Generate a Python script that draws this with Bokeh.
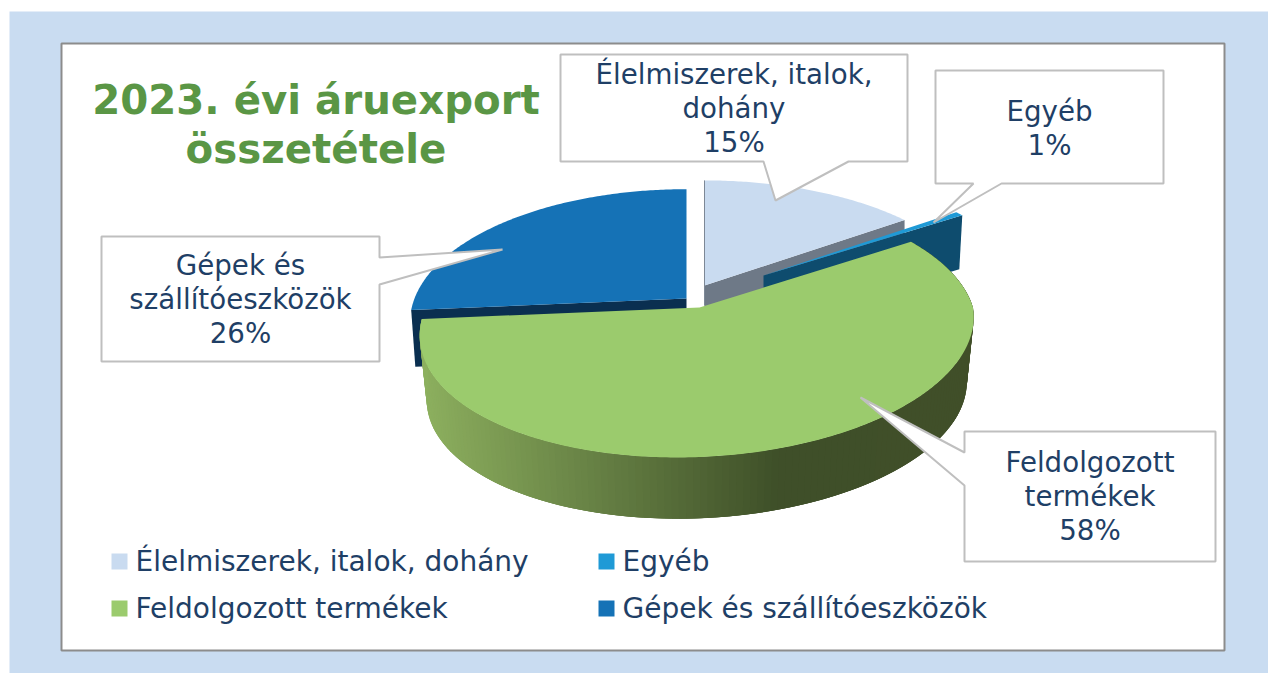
import numpy as np
from bokeh.plotting import figure
from bokeh.models import Range1d
from bokeh.core.properties import value
from bokeh.embed import file_html
from bokeh.resources import INLINE

# ---- data ----
categories = ["Élelmiszerek, italok, dohány", "Egyéb", "Feldolgozott termékek", "Gépek és szállítóeszközök"]
shares = [15.1, 0.6, 57.9, 26.4]
label_lines = [["Élelmiszerek, italok,", "dohány"], ["Egyéb"], ["Feldolgozott", "termékek"], ["Gépek és", "szállítóeszközök"]]
title_lines = ["2023. évi áruexport", "összetétele"]

# ---- layout / style ----
W, H = 1268, 673
FONT = "DejaVu Sans"
TXT = "#1f3f66"
TOP = ["#c9dbf0", "#1f9ad6", "#9bcb6d", "#1572b6"]
CUT = ["#6e7987", "#0e4c6e", None, "#0a2f50"]
# apex x, apex y, A, B, k, shear, base scale, base drop
GEO = [(704, 285, 272, 124, .18, 0, 1.0, 53),
       (763, 275, 262, 120, .18, 0, .985, 53),
       (699, 307, 273.5, 128.5, .143, -.15, .975, 65),
       (686, 298, 272, 129, .18, 0, .985, 57)]
BOX = [(560, 54, 907, 161), (935, 70, 1163, 183), (964, 431, 1215, 561), (101, 236, 379, 361)]
CALLOUT = [[(848, 161), (775, 200), (763, 161)],
           [(1001, 183), (933, 222), (973, 183)],
           [(964, 452), (860, 397), (964, 485)],
           [(379, 284), (502, 249), (379, 257)]]
LABEL_DY = [0, 1.5, 0, 0]

p = figure(width=W, height=H, output_backend="svg", toolbar_location=None,
           x_range=Range1d(0, W), y_range=Range1d(H, 0),
           min_border=0, outline_line_color=None)
p.axis.visible = False
p.grid.visible = False
p.background_fill_color = "#ffffff"
p.border_fill_color = "#ffffff"

# panel and white card
p.quad(left=9, right=W, top=11, bottom=H, fill_color="#c9dcf1", line_color=None)
p.quad(left=61, right=1224, top=43, bottom=650, fill_color="#ffffff", line_color="#8c8c8c", line_width=2)


def rim(geo, theta, base=False):
    ax, ay, A, B, k, sh, s, d = geo
    c, t = np.cos(theta), np.sin(theta)
    dx = A * t / (1 + k * c)
    dy = -B * c / (1 + k * c)
    dx = dx + sh * np.maximum(dy, 0)
    if base:
        return ax + s * dx, ay + s * dy + d
    return ax + dx, ay + dy


edges = 2 * np.pi * np.cumsum([0] + shares) / sum(shares)


def cut_face(i, theta):
    g = GEO[i]
    x1, y1 = rim(g, np.array(theta))
    x2, y2 = rim(g, np.array(theta), base=True)
    return [g[0], float(x1), float(x2), g[0]], [g[1], float(y1), float(y2), g[1] + g[7]]


def top_face(i):
    g = GEO[i]
    th = np.linspace(edges[i], edges[i + 1], max(6, int((edges[i + 1] - edges[i]) * 90)))
    x, y = rim(g, th)
    return [g[0]] + list(x), [g[1]] + list(y)


# Gépek (back left)
xs, ys = cut_face(3, edges[3])
p.patch(xs, ys, fill_color=CUT[3], line_color=None)
xs, ys = top_face(3)
p.patch(xs, ys, fill_color=TOP[3], line_color=None)

# Élelmiszerek (back)
xs, ys = cut_face(0, edges[1])
p.patch(xs, ys, fill_color=CUT[0], line_color=None)
xs, ys = top_face(0)
p.patch(xs, ys, fill_color=TOP[0], line_color=None)
x_edge, y_edge = rim(GEO[0], np.array(0.0))
p.line([float(x_edge), GEO[0][0]], [float(y_edge), GEO[0][1] + 20], line_color="#7d8896", line_width=1)

# Egyéb
xs, ys = cut_face(1, edges[2])
p.patch(xs, ys, fill_color=CUT[1], line_color=None)
xs, ys = top_face(1)
p.patch(xs, ys, fill_color=TOP[1], line_color=None)

# Feldolgozott: side wall with shading, then the top
g = GEO[2]
stops_x = [425, 780, 975]
stops_r = [0x8d, 0x3f, 0x41]
stops_g = [0xb0, 0x50, 0x4f]
stops_b = [0x5f, 0x29, 0x29]
th = np.linspace(edges[2], edges[3], 160)
tx, ty = rim(g, th)
bx, by = rim(g, th, base=True)
side_x, side_y, side_c = [], [], []
for j in range(len(th) - 1):
    e = min(j + 3, len(th) - 1)  # overlap the next strips, hiding the seams
    side_x.append([tx[j], tx[e], bx[e], bx[j]])
    side_y.append([ty[j], ty[e], by[e], by[j]])
    xm = (tx[j] + bx[j]) / 2
    side_c.append("#%02x%02x%02x" % (int(np.interp(xm, stops_x, stops_r)),
                                      int(np.interp(xm, stops_x, stops_g)),
                                      int(np.interp(xm, stops_x, stops_b))))
p.patches(side_x, side_y, fill_color=side_c, line_color=None)
xs, ys = top_face(2)
p.patch(xs, ys, fill_color=TOP[2], line_color=None)

# callouts and labels
for i, (x0, y0, x1, y1) in enumerate(BOX):
    c = CALLOUT[i]
    if i in (0, 1):
        xs = [x0, x1, x1] + [q[0] for q in c] + [x0]
        ys = [y0, y0, y1] + [q[1] for q in c] + [y1]
    elif i == 2:
        xs = [x0, x1, x1, x0] + [q[0] for q in reversed(c)]
        ys = [y0, y0, y1, y1] + [q[1] for q in reversed(c)]
    else:
        xs = [x0, x1] + [q[0] for q in reversed(c)] + [x1, x0]
        ys = [y0, y0] + [q[1] for q in reversed(c)] + [y1, y1]
    p.patch(xs, ys, fill_color="#ffffff", line_color="#bfbfbf", line_width=2)
    lines = label_lines[i] + ["%d%%" % round(shares[i])]
    cy = (y0 + y1) / 2 + LABEL_DY[i]
    for n, t in enumerate(lines):
        y = cy + (n - (len(lines) - 1) / 2) * 34
        p.text([(x0 + x1) / 2], [y], text=[t], text_align="center", text_baseline="middle",
               text_font=value(FONT), text_font_size="27.7px", text_color=TXT)

# title
for t, y in zip(title_lines, (100, 149)):
    p.text([315.5], [y], text=[t], text_align="center", text_baseline="middle",
           text_font=value(FONT), text_font_style="bold", text_font_size="40.3px", text_color="#5a9645")

# legend
LEG = [(111, 135, 561), (598, 622, 561), (111, 135, 608), (598, 622, 608)]
for (sx, tx_, ly), i in zip(LEG, range(4)):
    p.quad(left=sx, right=sx + 16, top=ly - 8, bottom=ly + 8, fill_color=TOP[i], line_color=None)
    p.text([tx_], [ly], text=[categories[i]], text_align="left", text_baseline="middle",
           text_font=value(FONT), text_font_size="28px", text_color=TXT)

open("out.html", "w").write(file_html(p, INLINE))
